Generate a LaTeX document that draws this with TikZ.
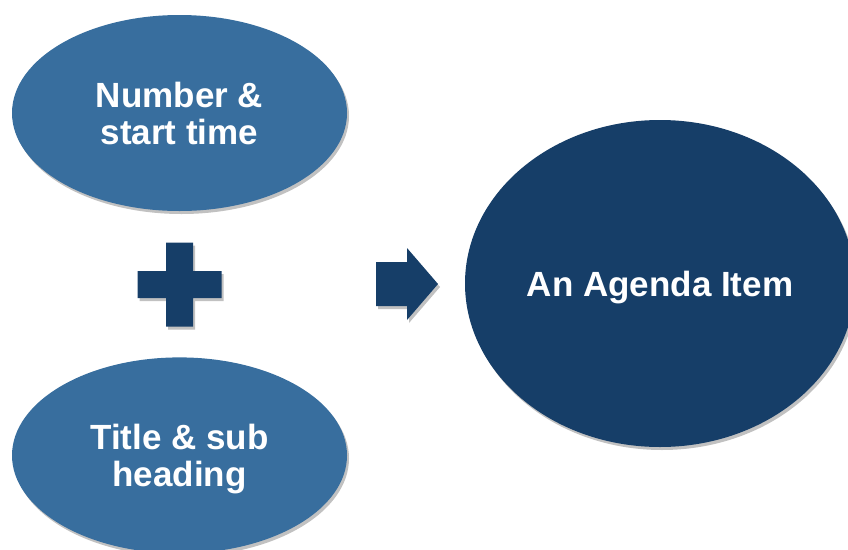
\documentclass[tikz,border=0pt]{standalone}
\usepackage{fontspec}
\setmainfont{Liberation Sans}
\usetikzlibrary{shapes.geometric, positioning, shadows}
\definecolor{steel}{HTML}{386E9E}
\definecolor{navy}{HTML}{163E68}
\tikzset{soft shadow/.style = {drop shadow={shadow xshift=2pt, shadow yshift=-3pt, opacity=0.35, fill=black!70}}}
\tikzset{part/.style = {ellipse, fill=steel, text=white, align=center,
    font=\bfseries\fontsize{35}{37}\selectfont, inner sep=0pt, text depth=0pt,
    minimum width=335pt, minimum height=196pt, soft shadow}}

\begin{document}
\begin{tikzpicture}[x=1pt, y=-1pt, node distance=146pt]
      \useasboundingbox (0,0) rectangle (848,549);

      \node[part] (number) at (179.5,113) {Number \&\\start time};

      \node[part, below = of number] (title) {Title \& sub\\heading};

      \node[part, fill=navy, minimum width=390pt, minimum height=327pt]
        (item) at (660,283.5) {An Agenda Item};

      \coordinate (plus) at (179.5,284.5);
      \coordinate (arrow) at (376,284);

        \fill[navy, soft shadow] (plus) ++(-13.5,-42) -- ++(27,0) -- ++(0,28.5)
        -- ++(28.5,0) -- ++(0,27) -- ++(-28.5,0) -- ++(0,28.5) -- ++(-27,0)
        -- ++(0,-28.5) -- ++(-28.5,0) -- ++(0,-27) -- ++(28.5,0) -- cycle;

        \fill[navy, soft shadow] (arrow) ++(0,-22) -- ++(31,0) -- ++(0,-14)
        -- ++(31,36) -- ++(-31,36) -- ++(0,-14) -- ++(-31,0) -- cycle;
    \end{tikzpicture}
\end{document}
